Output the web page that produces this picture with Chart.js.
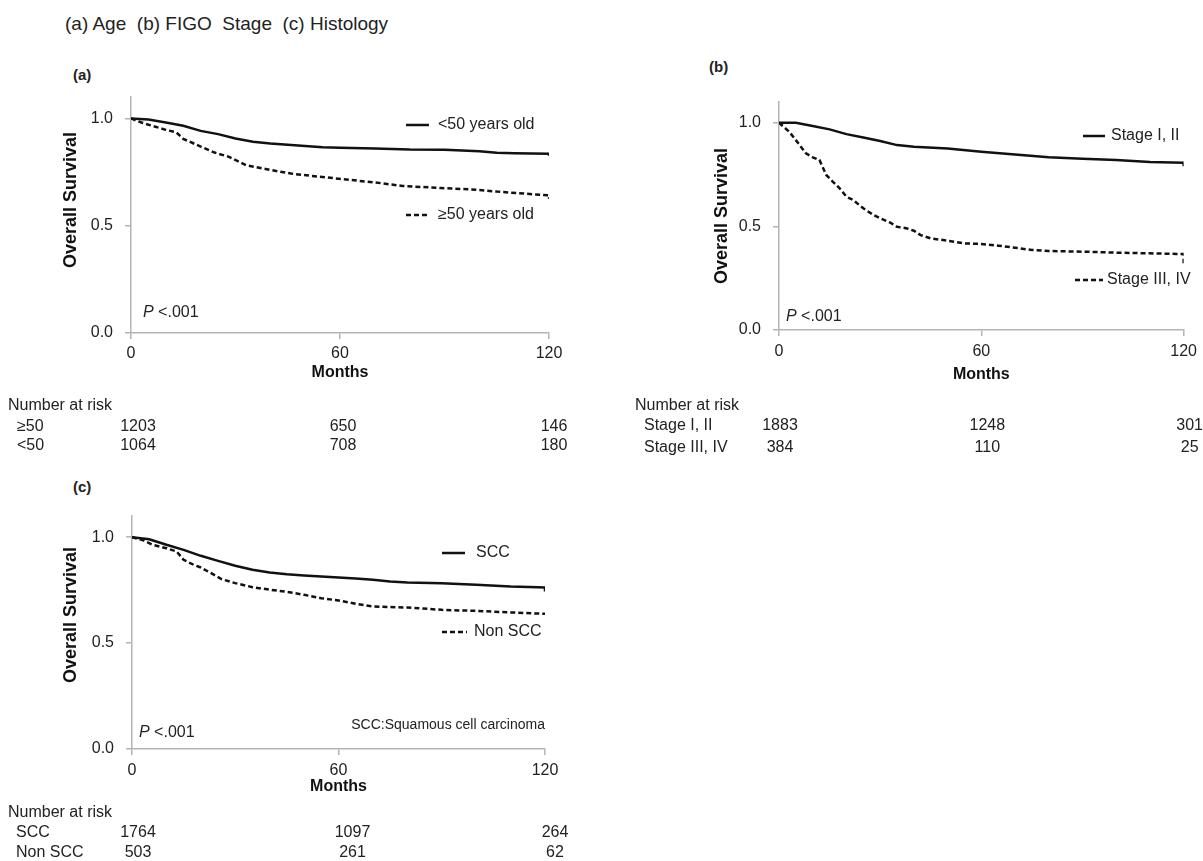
<!DOCTYPE html>
<html>
<head>
<meta charset="utf-8">
<script src="https://cdn.jsdelivr.net/npm/chart.js@4.4.0/dist/chart.umd.min.js"></script>
<style>
  body { margin:0; background:#fff; width:1203px; height:861px; position:relative; overflow:hidden;
         font-family:'Liberation Sans', Arial, sans-serif; color:#222; }
  canvas { position:absolute; }
  .panel { position:absolute; font-weight:bold; font-size:15px; }
  #heading { position:absolute; left:65px; top:13px; font-size:19px; white-space:pre; }
</style>
</head>
<body>
<div id="heading">(a) Age  (b) FIGO  Stage  (c) Histology</div>
<div class="panel" style="left:73px;top:66px">(a)</div>
<div class="panel" style="left:709px;top:58px">(b)</div>
<div class="panel" style="left:73px;top:478px">(c)</div>
<canvas id="chartA" width="600" height="470" style="left:0;top:0"></canvas>
<canvas id="chartB" width="583" height="470" style="left:620px;top:0"></canvas>
<canvas id="chartC" width="600" height="391" style="left:0;top:470px"></canvas>
<script>
// months shown under each panel
const riskMonths = [0, 60, 120];

// (a) Age - [month, survival]
const ageUnder50 = [[0,1.0],[5,0.995],[10,0.981],[15,0.966],[20,0.942],[25,0.927],[30,0.907],[35,0.891],[40,0.883],
  [45,0.877],[50,0.872],[55,0.866],[60,0.863],[70,0.860],[80,0.855],[90,0.854],[100,0.847],[105,0.840],[110,0.838],[120,0.836],[120,0.826]];
const ageOver50 = [[0,1.0],[3,0.981],[6,0.966],[10,0.947],[13,0.935],[15,0.905],[20,0.869],[24,0.841],[28,0.822],[33,0.782],
  [39,0.763],[46,0.743],[52,0.732],[61,0.717],[72,0.698],[78,0.685],[89,0.676],[100,0.667],[105,0.659],[116,0.646],[120,0.642],[120,0.626]];
const riskOver50 = [1203, 650, 146];
const riskUnder50 = [1064, 708, 180];

// (b) FIGO stage
const stageEarly = [[0,1.0],[5,1.0],[10,0.984],[15,0.968],[20,0.945],[25,0.929],[30,0.912],[35,0.892],[40,0.884],[50,0.876],
  [60,0.860],[70,0.847],[80,0.833],[90,0.826],[100,0.820],[110,0.810],[120,0.807],[120,0.790]];
const stageLate = [[0,1.0],[3,0.957],[5,0.916],[8,0.852],[10,0.833],[12,0.820],[14,0.748],[16,0.715],[18,0.683],[20,0.643],
  [22,0.627],[25,0.587],[28,0.555],[30,0.539],[33,0.518],[35,0.498],[38,0.490],[40,0.479],[42,0.458],[45,0.442],[50,0.431],
  [55,0.418],[60,0.415],[65,0.407],[70,0.397],[75,0.386],[80,0.381],[90,0.378],[100,0.373],[110,0.370],[118,0.367],[120,0.367],[120,0.322]];
const riskEarly = [1883, 1248, 301];
const riskLate = [384, 110, 25];

// (c) Histology
const histScc = [[0,1.0],[5,0.990],[10,0.964],[15,0.940],[20,0.912],[25,0.888],[30,0.865],[35,0.846],[40,0.833],[45,0.825],
  [50,0.819],[55,0.814],[60,0.810],[65,0.805],[70,0.799],[75,0.791],[80,0.786],[90,0.783],[100,0.775],[110,0.767],[118,0.764],[120,0.762],[120,0.744]];
const histNonScc = [[0,1.0],[3,0.987],[6,0.964],[10,0.948],[13,0.932],[15,0.893],[18,0.869],[20,0.857],[23,0.830],[26,0.802],
  [30,0.783],[35,0.764],[40,0.752],[45,0.742],[50,0.728],[55,0.712],[60,0.701],[65,0.686],[70,0.673],[80,0.668],[90,0.657],
  [100,0.652],[110,0.645],[120,0.638]];
const riskScc = [1764, 1097, 264];
const riskNonScc = [503, 261, 62];

const FONT = "'Liberation Sans', Arial, sans-serif";
const AXIS = '#b4b4b4';
Chart.defaults.font.family = FONT;
Chart.defaults.color = '#222';

// legend keys, P value, notes and number-at-risk table
const annotate = {
  id: 'annotate',
  afterDraw(chart, args, o) {
    const ctx = chart.ctx, xs = chart.scales.x, area = chart.chartArea;
    ctx.save();
    ctx.fillStyle = '#222';
    ctx.textBaseline = 'middle';
    chart.data.datasets.forEach((ds, i) => {
      const k = o.keys[i];
      ctx.beginPath();
      ctx.setLineDash(ds.borderDash || []);
      ctx.lineWidth = 2.5;
      ctx.strokeStyle = ds.borderColor;
      ctx.moveTo(k.x1, k.y); ctx.lineTo(k.x2, k.y); ctx.stroke();
      ctx.setLineDash([]);
      ctx.font = '16px ' + FONT;
      ctx.textAlign = 'left';
      ctx.fillText(ds.label, k.tx, k.y);
    });
    ctx.font = 'italic 16px ' + FONT;
    ctx.fillText('P', o.p.x, o.p.y);
    const pw = ctx.measureText('P ').width;
    ctx.font = '16px ' + FONT;
    ctx.fillText('<.001', o.p.x + pw, o.p.y);
    if (o.note) {
      ctx.font = '14px ' + FONT;
      ctx.textAlign = 'right';
      ctx.fillText(o.note.text, o.note.x, o.note.y);
    }
    const r = o.risk;
    ctx.font = '16px ' + FONT;
    ctx.textAlign = 'left';
    ctx.fillText('Number at risk', r.x, area.bottom + r.dy[0]);
    r.rows.forEach((row, j) => {
      const y = area.bottom + r.dy[j + 1];
      ctx.textAlign = 'left';
      ctx.fillText(row.label, r.rx, y);
      ctx.textAlign = 'center';
      row.values.forEach((v, c) => ctx.fillText(v, xs.getPixelForValue(riskMonths[c]) + r.off[c], y));
    });
    ctx.restore();
  }
};

function line(label, pts, dashed) {
  return {
    label: label,
    data: pts.map(p => ({x: p[0], y: p[1]})),
    borderColor: '#111',
    borderWidth: 2.5,
    borderDash: dashed ? [5, 3] : [],
    pointRadius: 0,
    tension: 0
  };
}

function options(cfg) {
  return {
    responsive: false,
    animation: false,
    layout: {padding: cfg.pad},
    plugins: {legend: {display: false}, tooltip: {enabled: false}, annotate: cfg.notes},
    scales: {
      x: {
        type: 'linear', min: 0, max: 120,
        ticks: {stepSize: 60, padding: cfg.xTickPad, font: {size: 16}, color: '#222'},
        grid: {drawOnChartArea: false, tickLength: 6, color: AXIS, lineWidth: 1.5},
        border: {color: AXIS, width: 1.5},
        title: {display: true, text: 'Months', font: {size: 16, weight: 'bold'}, color: '#111', padding: 0},
        afterFit: s => { s.height = cfg.xH; }
      },
      y: {
        min: 0, max: 1.1,
        afterBuildTicks: s => { s.ticks = s.ticks.filter(t => [0, 0.5, 1].some(v => Math.abs(t.value - v) < 1e-6)); },
        ticks: {stepSize: 0.5, padding: 12, font: {size: 16}, color: '#222', callback: v => v.toFixed(1)},
        grid: {drawOnChartArea: false, tickLength: 6, color: AXIS, lineWidth: 1.5},
        border: {color: AXIS, width: 1.5},
        // leading spaces nudge the rotated title upward where the original sits off-centre
        title: {display: true, text: ' '.repeat(cfg.yShift) + 'Overall Survival', font: {size: 18, weight: 'bold'}, color: '#111', padding: {top: 5, bottom: 0}},
        afterFit: s => { s.width = cfg.yW; }
      }
    }
  };
}

new Chart(document.getElementById('chartA'), {
  type: 'line',
  data: {datasets: [line('<50 years old', ageUnder50, false), line('≥50 years old', ageOver50, true)]},
  plugins: [annotate],
  options: options({
    pad: {left: 55, top: 97, right: 51, bottom: 88}, yW: 76, xH: 49, xTickPad: 5, yShift: 6,
    notes: {
      keys: [{x1: 406, x2: 429, tx: 438, y: 125}, {x1: 406, x2: 429, tx: 438, y: 215}],
      p: {x: 143, y: 313},
      risk: {x: 8, rx: 17, dy: [73, 94, 113], off: [7, 3, 5],
        rows: [{label: '≥50', values: riskOver50}, {label: '<50', values: riskUnder50}]}
    }
  })
});

new Chart(document.getElementById('chartB'), {
  type: 'line',
  data: {datasets: [line('Stage I, II', stageEarly, false), line('Stage III, IV', stageLate, true)]},
  plugins: [annotate],
  options: options({
    pad: {left: 86, top: 102, right: 17, bottom: 86}, yW: 73, xH: 54, xTickPad: 6, yShift: 0,
    notes: {
      keys: [{x1: 463, x2: 485, tx: 491, y: 136}, {x1: 455, x2: 483, tx: 487, y: 280}],
      p: {x: 166, y: 317},
      risk: {x: 15, rx: 24, dy: [76, 96, 118], off: [1, 6, 6],
        rows: [{label: 'Stage I, II', values: riskEarly}, {label: 'Stage III, IV', values: riskLate}]}
    }
  })
});

new Chart(document.getElementById('chartC'), {
  type: 'line',
  data: {datasets: [line('SCC', histScc, false), line('Non SCC', histNonScc, true)]},
  plugins: [annotate],
  options: options({
    pad: {left: 55, top: 46, right: 55, bottom: 65}, yW: 77, xH: 47, xTickPad: 6, yShift: 7,
    notes: {
      keys: [{x1: 442, x2: 465, tx: 476, y: 83}, {x1: 442, x2: 467, tx: 474, y: 162}],
      p: {x: 139, y: 263},
      note: {text: 'SCC:Squamous cell carcinoma', x: 545, y: 255},
      risk: {x: 8, rx: 16, dy: [64, 84, 104], off: [6, 14, 10],
        rows: [{label: 'SCC', values: riskScc}, {label: 'Non SCC', values: riskNonScc}]}
    }
  })
});
</script>
</body>
</html>
